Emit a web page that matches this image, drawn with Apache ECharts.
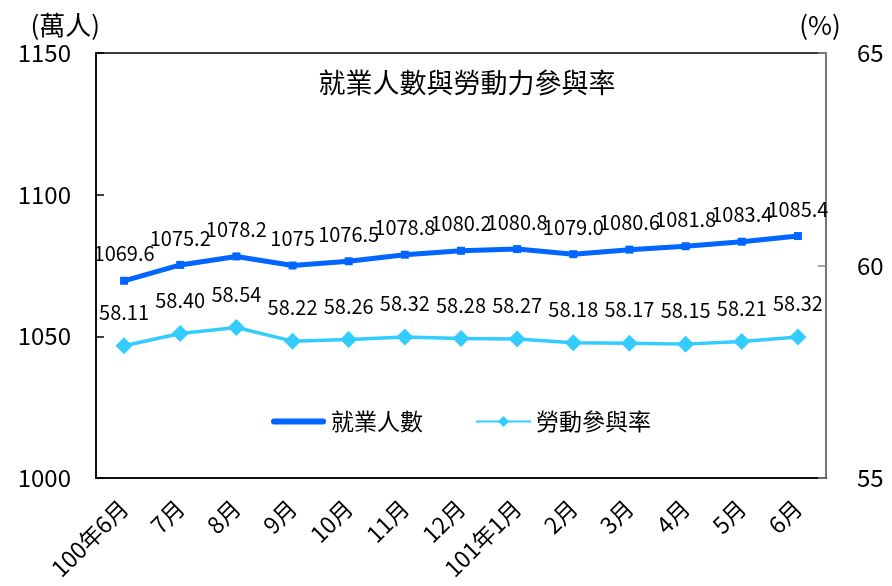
<!DOCTYPE html>
<html><head><meta charset="utf-8">
<script src="https://cdn.jsdelivr.net/npm/echarts@6/dist/echarts.min.js"></script>
<style>html,body{margin:0;padding:0;background:#fff}#c{width:892px;height:586px}</style>
</head><body><div id="c"></div>
<script>
const categories = ['100年6月','7月','8月','9月','10月','11月','12月','101年1月','2月','3月','4月','5月','6月'];
const employed = [1069.6,1075.2,1078.2,1075,1076.5,1078.8,1080.2,1080.8,1079.0,1080.6,1081.8,1083.4,1085.4];
const employedLabels = ['1069.6','1075.2','1078.2','1075','1076.5','1078.8','1080.2','1080.8','1079.0','1080.6','1081.8','1083.4','1085.4'];
const rate = [58.11,58.40,58.54,58.22,58.26,58.32,58.28,58.27,58.18,58.17,58.15,58.21,58.32];
const rateLabels = ['58.11','58.40','58.54','58.22','58.26','58.32','58.28','58.27','58.18','58.17','58.15','58.21','58.32'];
const leftTicks = [1000,1050,1100,1150];
const rightTicks = [55,60,65];

const FONT = '"Noto Sans CJK TC","Noto Sans",sans-serif';
const chart = echarts.init(document.getElementById('c'));
chart.setOption({
  animation: false,
  textStyle: {fontFamily: FONT, color: '#000'},
  title: {text: '就業人數與勞動力參與率', left: 462, top: 64, textAlign: 'center',
    textStyle: {fontFamily: FONT, fontSize: 27, fontWeight: 'normal', color: '#000'}},
  legend: {left: 266, top: 405, itemWidth: 55, itemHeight: 14, itemGap: 52,
    textStyle: {fontFamily: FONT, fontSize: 23, color: '#000'},
    data: [
      {name: '就業人數', icon: 'path://M3,0H52A3,3 0 0 1 52,6H3A3,3 0 0 1 3,0Z'},
      '勞動參與率'
    ]},
  grid: {left: 96, right: 66, top: 53, bottom: 108, show: true, borderColor: '#000', borderWidth: 1.5},
  xAxis: {type: 'category', data: categories, boundaryGap: true,
    axisLine: {lineStyle: {color: '#000', width: 1.5}},
    axisTick: {inside: true, length: 8, lineStyle: {color: '#000', width: 1.5}},
    axisLabel: {rotate: 45, fontFamily: FONT, fontSize: 23, color: '#000', margin: 26, interval: 0}},
  yAxis: [
    {type: 'value', min: leftTicks[0], max: leftTicks[leftTicks.length-1], interval: 50,
      name: '(萬人)', nameLocation: 'end', nameGap: 15,
      nameTextStyle: {fontFamily: FONT, fontSize: 26, color: '#000', align: 'right', padding: [0, -4, 0, 0]},
      axisLine: {show: true, lineStyle: {color: '#000', width: 1.5}},
      axisTick: {show: true, inside: true, length: 8, lineStyle: {color: '#000', width: 1.5}},
      axisLabel: {fontFamily: FONT, fontSize: 24, color: '#000', margin: 25, formatter: v => String(v)},
      splitLine: {show: false}},
    {type: 'value', min: rightTicks[0], max: rightTicks[rightTicks.length-1], interval: 5,
      name: '(%)', nameLocation: 'end', nameGap: 15,
      nameTextStyle: {fontFamily: FONT, fontSize: 26, color: '#000', padding: [0, 12, 0, 0]},
      axisLine: {show: true, lineStyle: {color: '#888', width: 1.5}},
      axisTick: {show: true, inside: true, length: 8, lineStyle: {color: '#888', width: 1.5}},
      axisLabel: {fontFamily: FONT, fontSize: 24, color: '#000', margin: 31, formatter: v => String(v)},
      splitLine: {show: false}}
  ],
  series: [
    {name: '就業人數', type: 'line', yAxisIndex: 0, data: employed,
      symbol: 'rect', symbolSize: 8,
      lineStyle: {color: '#0066ff', width: 5}, itemStyle: {color: '#0066ff'},
      label: {show: true, position: 'top', distance: 13, fontFamily: FONT, fontSize: 20, color: '#000',
        formatter: p => employedLabels[p.dataIndex]}},
    {name: '勞動參與率', type: 'line', yAxisIndex: 1, data: rate,
      symbol: 'diamond', symbolSize: 17,
      lineStyle: {color: '#33ccff', width: 3.5}, itemStyle: {color: '#33ccff'},
      label: {show: true, position: 'top', distance: 15, fontFamily: FONT, fontSize: 20, color: '#000',
        formatter: p => rateLabels[p.dataIndex]}}
  ]
});
</script></body></html>
